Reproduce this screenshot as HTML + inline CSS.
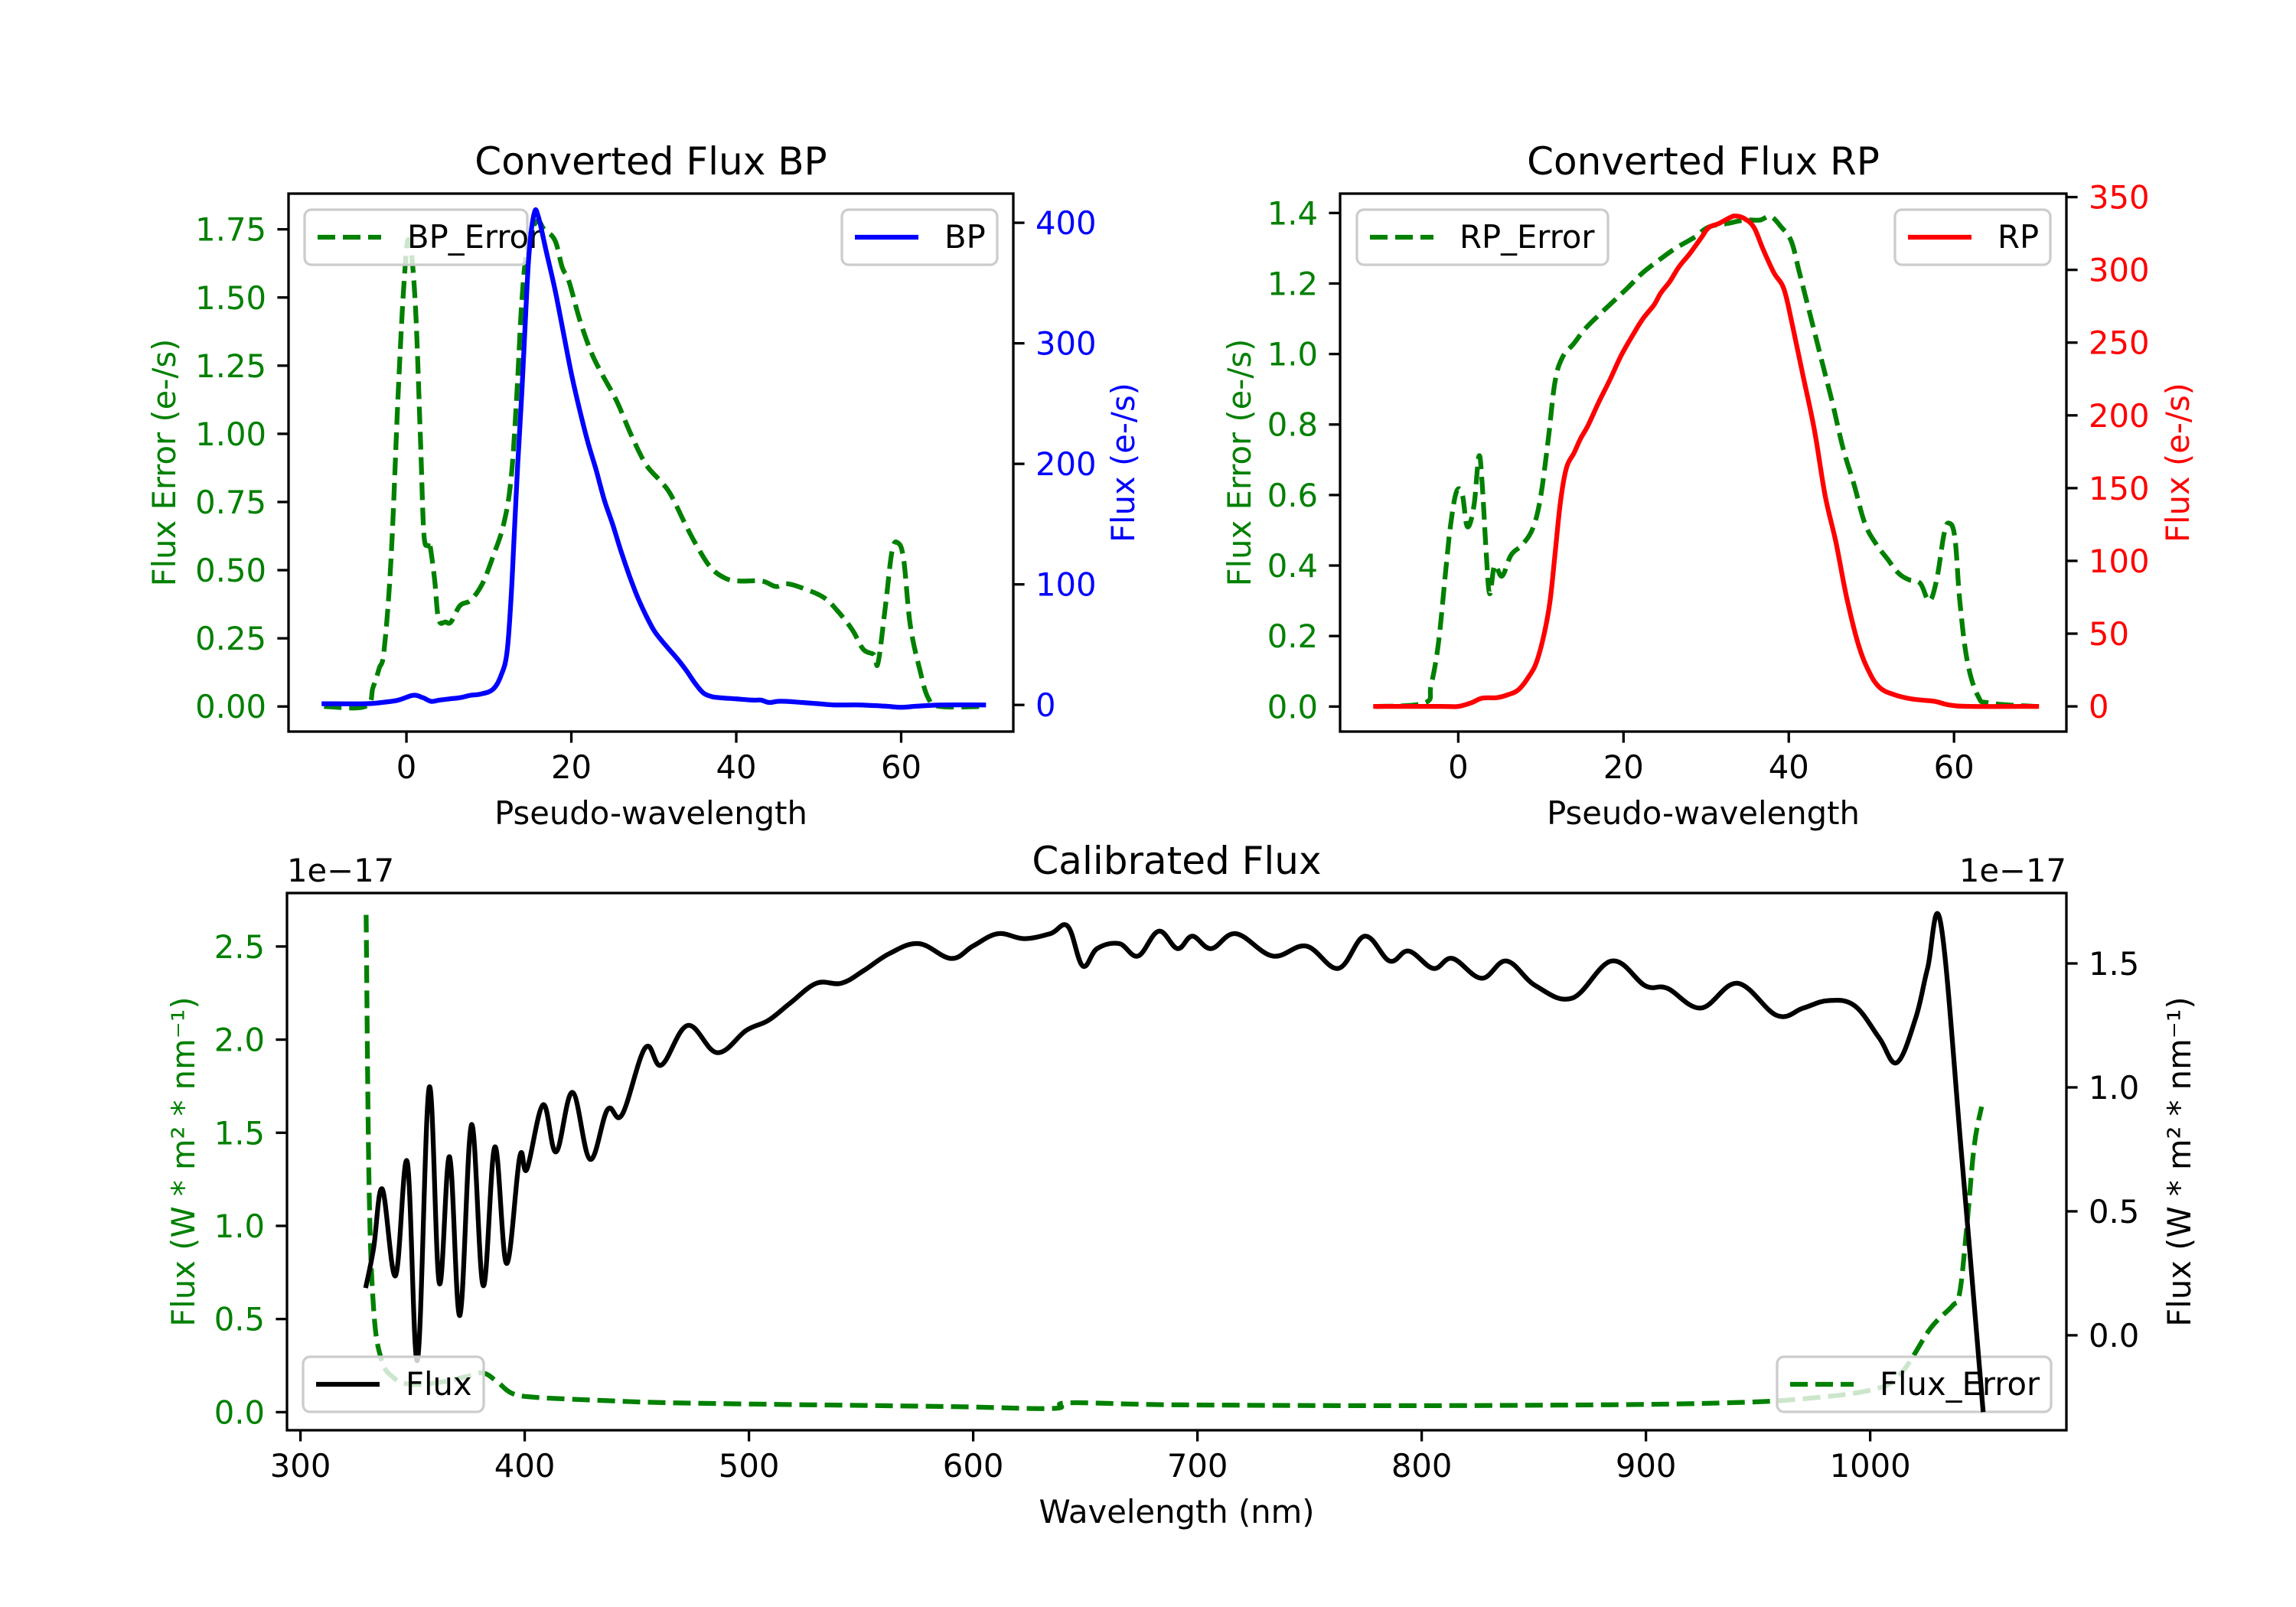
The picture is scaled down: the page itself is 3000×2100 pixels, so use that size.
<!DOCTYPE html>
<html><head><meta charset="utf-8">
<style>
html,body{margin:0;padding:0;background:#fff;}
svg{display:block;font-family:"DejaVu Sans","Liberation Sans",sans-serif;}
</style></head>
<body>
<svg id="fig" width="3000" height="2100" viewBox="0 0 3000 2100" xmlns="http://www.w3.org/2000/svg">
<rect x="0" y="0" width="3000" height="2100" fill="#fff"/>
</svg>
<script>
// ---- BP panel data ----
const bpX = [-10,-5,-3,-1,0.8,2,3,4,5.2,6.5,7.8,9,10.5,11.5,12.2,12.7,13.1,13.5,14,14.5,14.9,15.5,16,17,18,19,20,21,22,23,24,25,26,27,28,29,30,31,32,33,34,35,36,37,38,40,42,43,44,45,46,48,50,52,55,58,60,62,65,70];
const bpFlux = [1,1,2,4,8,6,3,4,5,6,8,9,13,25,44,90,145,200,260,330,377,408,405,375,345,310,275,245,218,195,170,150,128,108,90,75,62,53,45,37,28,18,10,7,6,5,4,4,2,3,3,2,1,0,0,-1,-2,-1,0,0];
const bpErrX = [-10,-5,-4.05,-3.3,-2.7,-1.85,-1,-0.26,0.3,1.05,1.7,2.1,2.55,2.8,3.4,3.9,4.75,5.4,6.5,7.8,9.2,10.5,11.8,12.7,13.4,14,14.7,15.8,16.7,18,18.9,19.7,21,22.4,23.7,25.5,27.2,29,30.7,32,33.8,35.2,36.9,38.7,40.4,43.1,44.8,46.2,48.4,50.6,52.3,54.1,55.4,56.7,57.2,58.1,58.9,59.6,60.3,61.1,62.3,63.3,64.7,70];
const bpErr = [0,0,0.07,0.14,0.21,0.55,1.15,1.57,1.71,1.49,0.98,0.64,0.59,0.6,0.47,0.32,0.31,0.31,0.37,0.39,0.45,0.55,0.67,0.84,1.15,1.49,1.69,1.78,1.75,1.71,1.61,1.56,1.42,1.30,1.22,1.12,1.00,0.89,0.83,0.78,0.67,0.59,0.51,0.47,0.46,0.46,0.44,0.45,0.43,0.40,0.35,0.28,0.21,0.19,0.16,0.37,0.57,0.60,0.54,0.30,0.13,0.03,0,0];
// ---- RP panel data ----
const rpX = [-10,-2,0,1.6,2.9,4.7,6,7.3,8.6,9.5,10.4,11.1,11.7,12.4,13.1,14,14.8,15.7,17,18.4,19.7,21,22.3,23.7,24.5,25.6,26.7,28,29.4,30.3,31.6,32.9,33.6,34.7,35.8,36.9,38.2,39.4,40.4,41.7,43.1,44.4,45.7,47,48.4,49.7,51,52.8,55,57.6,59.4,62,70];
const rpFlux = [0,0,0,2.5,5.7,6,8,11.5,21,31,50,72,104,142,164,174,184,193,209,225,241,254,266,276,284,292,302,311,322,329,332,336,337,335,329,314,298,287,263,228,190,145,113,75,43,24,13,8,5,3.5,1,0,0];
const rpErrX = [-10,-4.1,-3.3,-2.4,-1.5,-0.9,-0.2,0.5,1.1,1.9,2.5,2.9,3.4,3.8,4.4,5.3,6.4,7.8,9.1,10,10.9,11.7,12.6,14,15.3,17,18.8,20.6,22.3,24.5,26.3,28.5,30.3,32.5,34.7,36.5,37.8,39.1,40.3,41.3,42.6,44,45.3,46.6,47.9,49.2,50.6,51.9,53.2,54.5,55.9,57,57.9,58.8,59.4,60.1,60.7,61.6,62.9,64.3,70];
const rpErr = [0,0.01,0.06,0.18,0.39,0.52,0.61,0.60,0.51,0.57,0.71,0.63,0.43,0.32,0.40,0.37,0.43,0.46,0.51,0.60,0.76,0.92,0.99,1.03,1.07,1.11,1.15,1.19,1.23,1.27,1.30,1.33,1.36,1.37,1.38,1.38,1.39,1.36,1.32,1.23,1.11,0.98,0.86,0.73,0.63,0.52,0.46,0.42,0.38,0.36,0.35,0.30,0.36,0.49,0.52,0.48,0.30,0.13,0.03,0.01,0];
// ---- Calibrated panel data ----
const calX = [329.3,332.6,336.5,342.4,347.6,352.2,357.4,361.9,366.5,371.1,376.3,381.5,386.7,391.9,397.8,401,408.2,414,421.3,429.1,436.9,443.4,453.8,461,472.7,485.8,498.8,508.6,518.4,530.1,541.2,551,562.7,575.8,590.1,599.9,611,622.7,634.4,642.2,648.8,655.3,665.1,673.5,682.7,691.1,697.7,706.1,717.2,733.5,748.5,762.8,774.6,785.7,794.2,805.2,813.7,826.7,837.8,850.8,867.1,884.7,899.7,909.5,924.5,940.8,958.4,970.2,981.2,993,1004,1011.9,1020.3,1025.6,1031.5,1041,1050.3];
const calFlux = [0.20,0.35,0.59,0.24,0.70,-0.10,1.00,0.21,0.72,0.08,0.85,0.20,0.76,0.29,0.72,0.67,0.93,0.74,0.98,0.71,0.91,0.89,1.16,1.09,1.25,1.14,1.23,1.27,1.34,1.42,1.42,1.47,1.54,1.58,1.52,1.57,1.62,1.60,1.62,1.65,1.49,1.56,1.58,1.53,1.63,1.56,1.61,1.56,1.62,1.53,1.57,1.48,1.61,1.51,1.55,1.48,1.52,1.44,1.51,1.41,1.36,1.51,1.41,1.40,1.32,1.42,1.29,1.32,1.35,1.33,1.20,1.10,1.28,1.48,1.66,0.70,-0.30];
const calErrX = [329.3,330.6,332.6,335.9,341,348.9,361.9,373.7,381.5,388,394.5,404.3,420.6,440.2,466.2,525,590,635.7,642.2,687.9,785.7,883.4,935.6,968.2,1000.8,1013.8,1026.9,1036.6,1039.9,1043.2,1046.4,1049.7];
const calErr = [2.67,1.22,0.56,0.29,0.19,0.15,0.16,0.19,0.21,0.16,0.10,0.08,0.07,0.06,0.05,0.04,0.03,0.02,0.05,0.04,0.035,0.04,0.05,0.07,0.12,0.21,0.45,0.57,0.64,1.01,1.43,1.64];
// ticks
const pwTicks = [0,20,40,60];
const bpLeftTicks = [0,0.25,0.5,0.75,1.0,1.25,1.5,1.75];
const bpLeftLabels = ["0.00","0.25","0.50","0.75","1.00","1.25","1.50","1.75"];
const bpRightTicks = [0,100,200,300,400];
const rpLeftTicks = [0,0.2,0.4,0.6,0.8,1.0,1.2,1.4];
const rpLeftLabels = ["0.0","0.2","0.4","0.6","0.8","1.0","1.2","1.4"];
const rpRightTicks = [0,50,100,150,200,250,300,350];
const wlTicks = [300,400,500,600,700,800,900,1000];
const calLeftTicks = [0,0.5,1.0,1.5,2.0,2.5];
const calLeftLabels = ["0.0","0.5","1.0","1.5","2.0","2.5"];
const calRightTicks = [0,0.5,1.0,1.5];
const calRightLabels = ["0.0","0.5","1.0","1.5"];

const NS = "http://www.w3.org/2000/svg";
const svg = document.getElementById('fig');
function mk(tag, attrs, parent){
  const e = document.createElementNS(NS, tag);
  for (const k in attrs) e.setAttribute(k, attrs[k]);
  (parent||svg).appendChild(e);
  return e;
}
function scale(d0,d1,p0,p1){ return v => p0 + (v-d0)/(d1-d0)*(p1-p0); }
const FS = 41.7, GREEN="#008000";

function linePath(xs, ys, sx, sy){
  const P = xs.map((x,i)=>[sx(x), sy(ys[i])]);
  let d = 'M'+P[0][0].toFixed(1)+','+P[0][1].toFixed(1);
  const t = 0.18;
  for (let i=0;i<P.length-1;i++){
    const p0 = P[Math.max(0,i-1)], p1 = P[i], p2 = P[i+1], p3 = P[Math.min(P.length-1,i+2)];
    const c1 = [p1[0]+(p2[0]-p0[0])*t, p1[1]+(p2[1]-p0[1])*t];
    const c2 = [p2[0]-(p3[0]-p1[0])*t, p2[1]-(p3[1]-p1[1])*t];
    d += ' C'+c1[0].toFixed(1)+','+c1[1].toFixed(1)+' '+c2[0].toFixed(1)+','+c2[1].toFixed(1)+' '+p2[0].toFixed(1)+','+p2[1].toFixed(1);
  }
  return d;
}
function series(g, xs, ys, sx, sy, color, dashed, name){
  const p = mk('path', {d: linePath(xs,ys,sx,sy), fill:'none', stroke:color, 'stroke-width':6.25, 'stroke-linejoin':'round', 'stroke-linecap': dashed?'butt':'square'}, g);
  if (dashed) p.setAttribute('stroke-dasharray','23 10');
  
  
  return p;
}
function legend(g, x, y, w, label, color, dashed, name){
  const lg = mk('g', {}, g);
  
  
  mk('rect', {x:x, y:y, width:w, height:72, rx:9, fill:'#fff', 'fill-opacity':0.8, stroke:'#cccccc', 'stroke-width':3.3}, lg);
  const l = mk('line', {x1:x+17, x2:x+100, y1:y+36, y2:y+36, stroke:color, 'stroke-width':6.25}, lg);
  if (dashed) l.setAttribute('stroke-dasharray','23 10');
  const t = mk('text', {x:x+134, y:y+50, 'font-size':FS, fill:'#000'}, lg);
  t.textContent = label;
}
function txt(g, x, y, s, attrs, name){
  const t = mk('text', Object.assign({x:x, y:y, 'font-size':FS}, attrs||{}), g);
  t.textContent = s;
  
  
  return t;
}
function xAxis(g, ticks, labels, sx, yb){
  ticks.forEach((v,i)=>{
    mk('line', {x1:sx(v), x2:sx(v), y1:yb, y2:yb+14.6, stroke:'#000','stroke-width':3.3}, g);
    txt(g, sx(v), yb+61, labels[i], {'text-anchor':'middle'}, 'x-tick-label');
  });
}
function yAxis(g, ticks, labels, sy, xe, side, color){
  ticks.forEach((v,i)=>{
    const d = side==='left' ? -14.6 : 14.6;
    mk('line', {x1:xe, x2:xe+d, y1:sy(v), y2:sy(v), stroke:'#000','stroke-width':3.3}, g);
    txt(g, side==='left'? xe-29 : xe+29, sy(v)+15, labels[i], {'text-anchor': side==='left'?'end':'start', fill:color}, side+'-y-tick-label');
  });
}
function frame(g,x0,y0,x1,y1){
  mk('rect',{x:x0,y:y0,width:x1-x0,height:y1-y0,fill:'none',stroke:'#000','stroke-width':3.3}, g);
}
function ylabel(g, x, yc, s, color, name){
  return txt(g, x, yc, s, {'text-anchor':'middle', fill:color, transform:'rotate(-90 '+x+' '+yc+')'}, name);
}

// ===== BP =====
(function(){
  const g = mk('g', {});  
  const x0=377,x1=1324,y0=253,y1=956;
  const sx = scale(-14.3,73.6,x0,x1);
  const syL = scale(-0.092,1.881,y1,y0);
  const syR = scale(-22.1,424.2,y1,y0);
  series(g,bpErrX,bpErr,sx,syL,GREEN,true,'bp-error-line');
  legend(g,398,274,291,'BP_Error',GREEN,true,'bp-error-legend');
  series(g,bpX,bpFlux,sx,syR,'#0000ff',false,'bp-flux-line');
  legend(g,1100,274,203,'BP','#0000ff',false,'bp-legend');
  frame(g,x0,y0,x1,y1);
  xAxis(g,pwTicks,pwTicks.map(String),sx,y1);
  yAxis(g,bpLeftTicks,bpLeftLabels,syL,x0,'left',GREEN);
  yAxis(g,bpRightTicks,bpRightTicks.map(String),syR,x1,'right','#0000ff');
  txt(g,(x0+x1)/2,228,'Converted Flux BP',{'text-anchor':'middle','font-size':50},'bp-title');
  txt(g,(x0+x1)/2,1077,'Pseudo-wavelength',{'text-anchor':'middle'},'bp-x-axis-title');
  ylabel(g,229,(y0+y1)/2,'Flux Error (e-/s)',GREEN,'bp-left-y-axis-title');
  ylabel(g,1482,(y0+y1)/2,'Flux (e-/s)','#0000ff','bp-right-y-axis-title');
})();

// ===== RP =====
(function(){
  const g = mk('g', {});  
  const x0=1751,x1=2700,y0=253,y1=956;
  const sx = scale(-14.3,73.6,x0,x1);
  const syL = scale(-0.071,1.455,y1,y0);
  const syR = scale(-17.3,352.4,y1,y0);
  series(g,rpErrX,rpErr,sx,syL,GREEN,true,'rp-error-line');
  legend(g,1773,274,328,'RP_Error',GREEN,true,'rp-error-legend');
  series(g,rpX,rpFlux,sx,syR,'#ff0000',false,'rp-flux-line');
  legend(g,2476,274,203,'RP','#ff0000',false,'rp-legend');
  frame(g,x0,y0,x1,y1);
  xAxis(g,pwTicks,pwTicks.map(String),sx,y1);
  yAxis(g,rpLeftTicks,rpLeftLabels,syL,x0,'left',GREEN);
  yAxis(g,rpRightTicks,rpRightTicks.map(String),syR,x1,'right','#ff0000');
  txt(g,(x0+x1)/2,228,'Converted Flux RP',{'text-anchor':'middle','font-size':50},'rp-title');
  txt(g,(x0+x1)/2,1077,'Pseudo-wavelength',{'text-anchor':'middle'},'rp-x-axis-title');
  ylabel(g,1634,(y0+y1)/2,'Flux Error (e-/s)',GREEN,'rp-left-y-axis-title');
  ylabel(g,2860,(y0+y1)/2,'Flux (e-/s)','#ff0000','rp-right-y-axis-title');
})();

// ===== Calibrated =====
(function(){
  const g = mk('g', {});  
  const x0=375,x1=2700,y0=1167,y1=1869;
  const sx = scale(294,1087.5,x0,x1);
  const syL = scale(-0.097,2.787,y1,y0);
  const syR = scale(-0.383,1.784,y1,y0);
  series(g,calErrX,calErr,sx,syL,GREEN,true,'flux-error-line');
  legend(g,2322,1773,358,'Flux_Error',GREEN,true,'flux-error-legend');
  series(g,calX,calFlux,sx,syR,'#000',false,'flux-line');
  legend(g,396,1773,236,'Flux','#000',false,'flux-legend');
  frame(g,x0,y0,x1,y1);
  xAxis(g,wlTicks,wlTicks.map(String),sx,y1);
  yAxis(g,calLeftTicks,calLeftLabels,syL,x0,'left',GREEN);
  yAxis(g,calRightTicks,calRightLabels,syR,x1,'right','#000');
  txt(g,(x0+x1)/2,1142,'Calibrated Flux',{'text-anchor':'middle','font-size':50},'calibrated-title');
  txt(g,(x0+x1)/2,1990,'Wavelength (nm)',{'text-anchor':'middle'},'calibrated-x-axis-title');
  txt(g,x0,1152,'1e\u221217',{},'left-offset-text');
  txt(g,x1,1152,'1e\u221217',{'text-anchor':'end'},'right-offset-text');
  ylabel(g,254,(y0+y1)/2,'Flux (W * m\u00B2 * nm\u207B\u00B9)',GREEN,'calibrated-left-y-axis-title');
  ylabel(g,2862,(y0+y1)/2,'Flux (W * m\u00B2 * nm\u207B\u00B9)','#000','calibrated-right-y-axis-title');
})();
</script>
</body></html>
